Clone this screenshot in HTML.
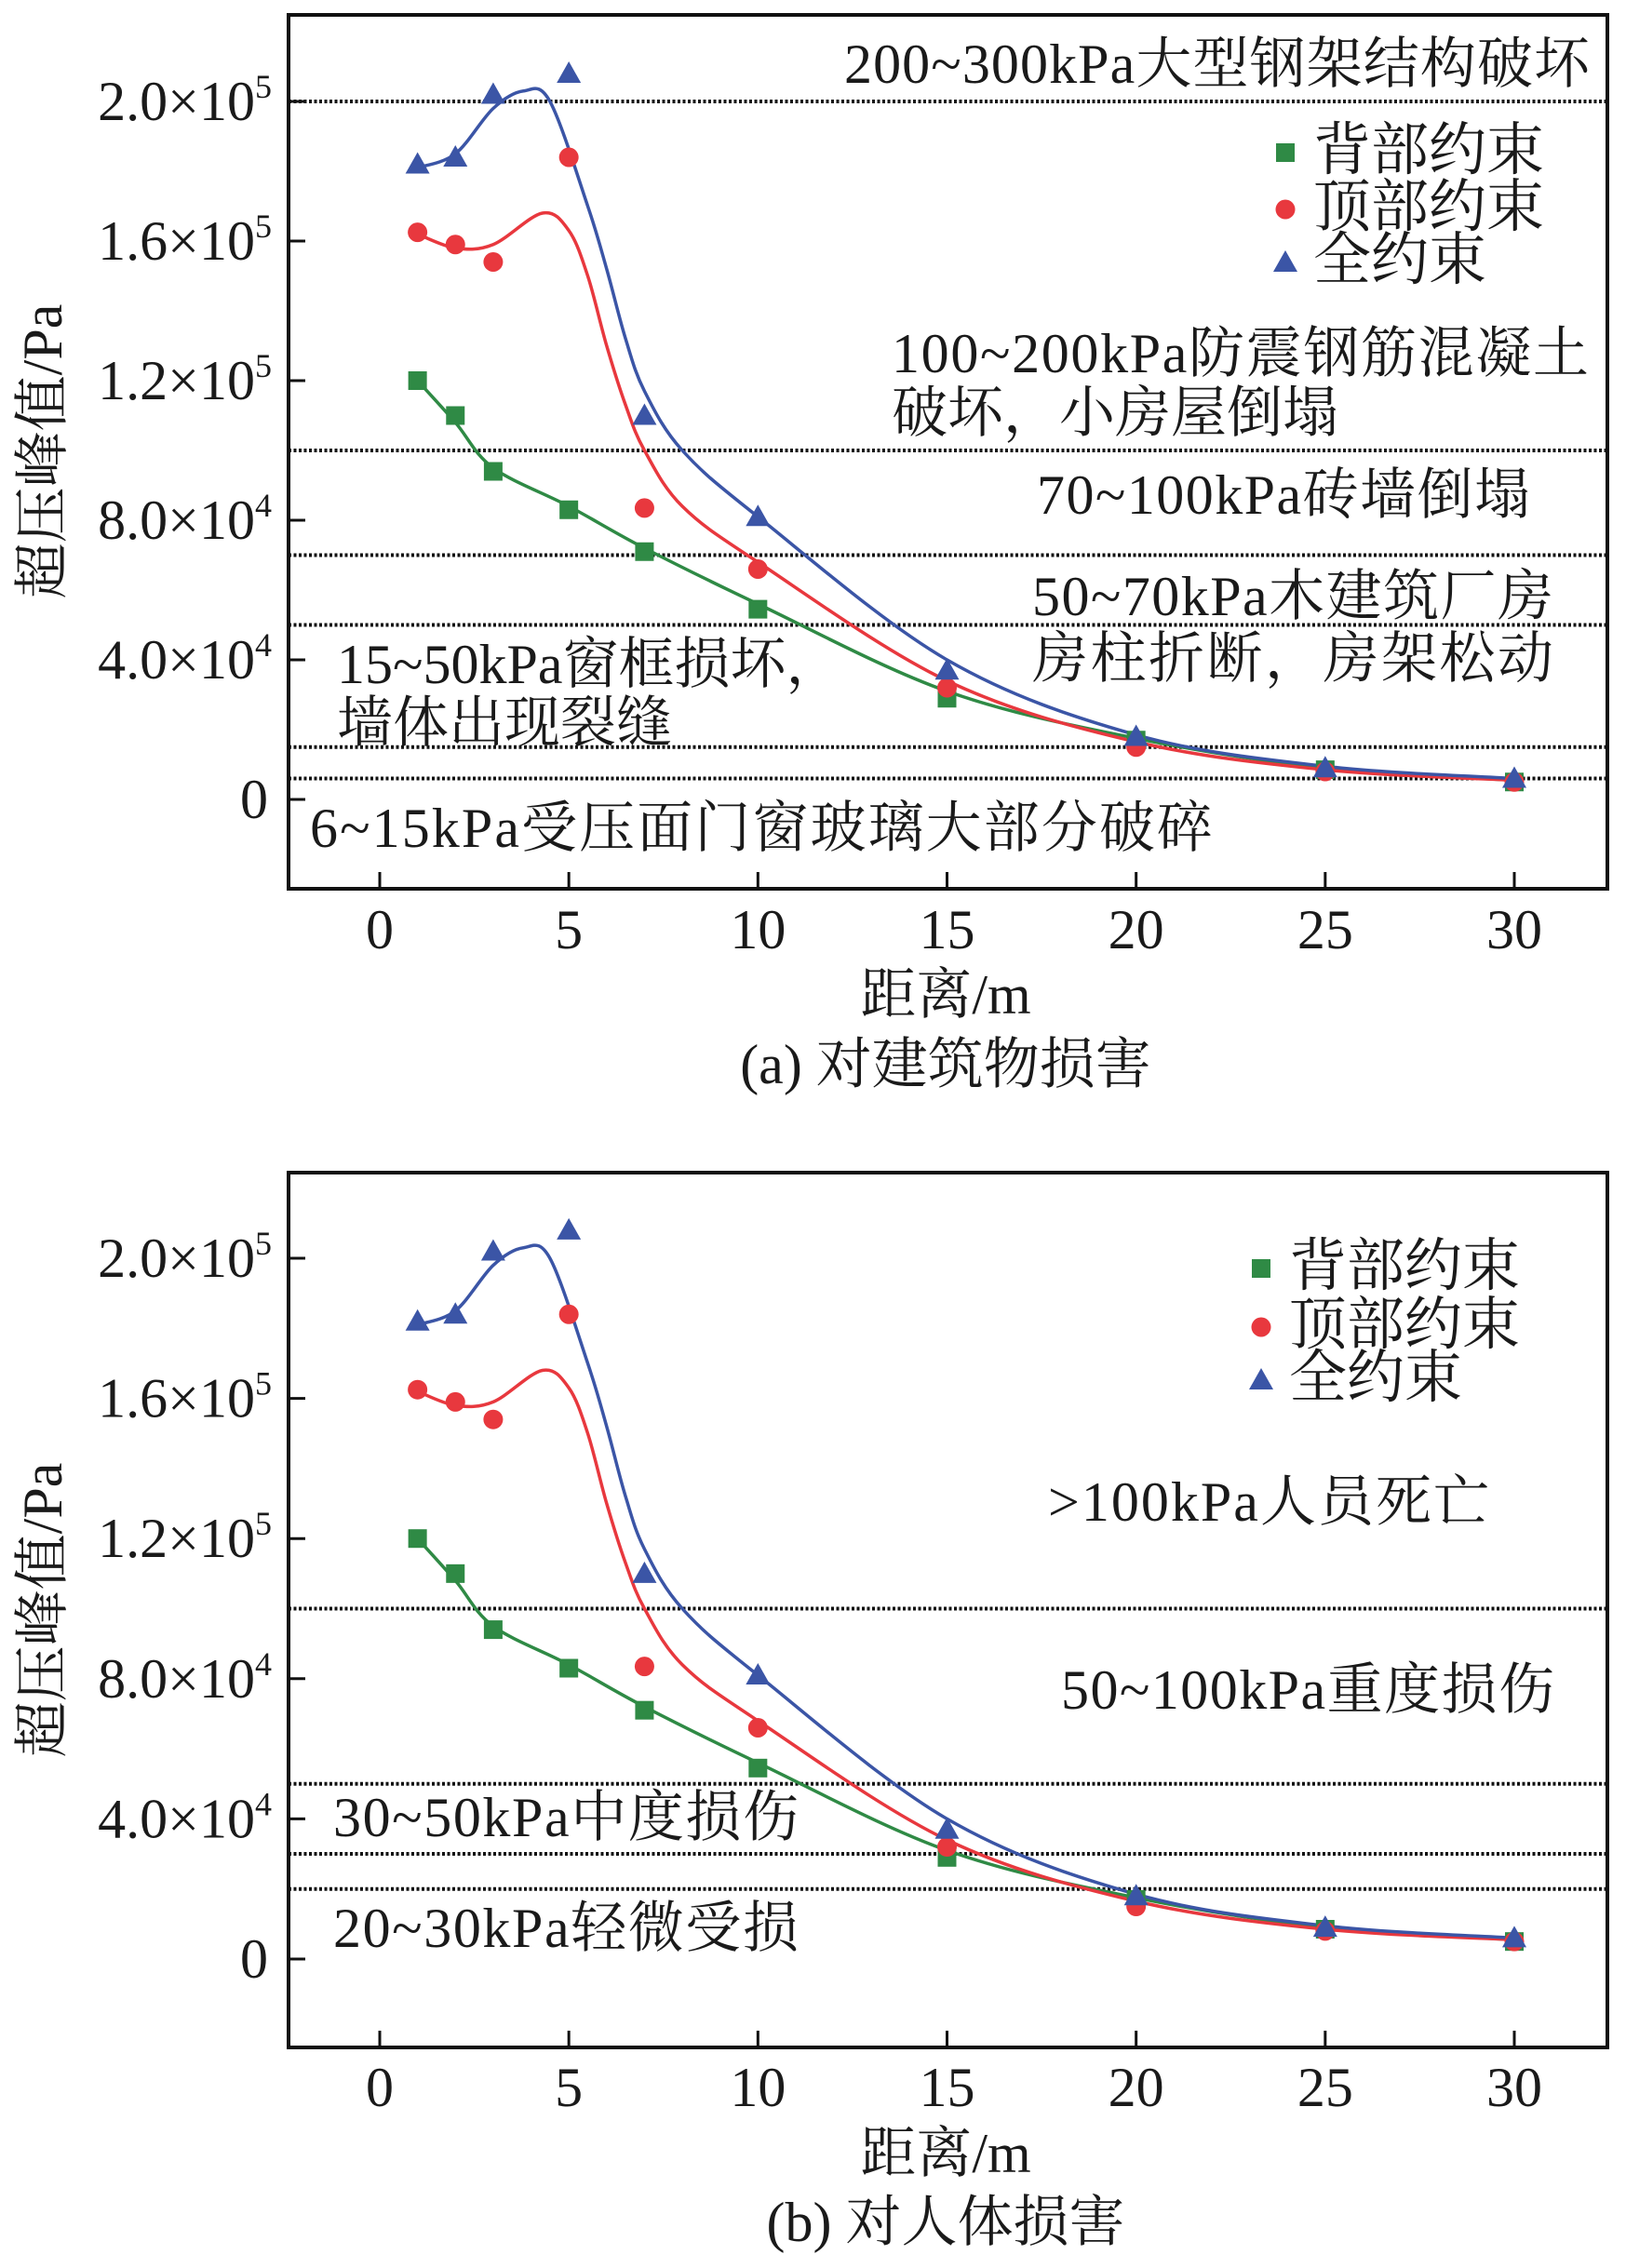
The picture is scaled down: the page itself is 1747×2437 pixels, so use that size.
<!DOCTYPE html>
<html><head><meta charset="utf-8">
<style>
html,body{margin:0;padding:0;background:#fff;}
svg{display:block;}
text{font-family:"Liberation Serif","Noto Serif CJK SC",serif;fill:#1a1a1a;}
</style></head>
<body>
<svg id="chart" width="1747" height="2437" viewBox="0 0 1747 2437" xmlns="http://www.w3.org/2000/svg"></svg>
<script>
// ---- data ----
const xValues = [1, 2, 3, 5, 7, 10, 15, 20, 25, 30];
const backValues = [120000, 110000, 94000, 83000, 71000, 54500, 29000, 17000, 8500, 5000];
const topValues = [162500, 159000, 154000, 184000, 83500, 66000, 32000, 15000, 8000, 5000];
const fullValues = [182000, 184000, 202000, 208000, 110000, 81000, 37000, 18000, 9000, 6000];
// fitted curve readings
const fitBackX = [1, 2, 3, 5, 7, 10, 15, 20, 25, 30];
const fitBackY = [120000, 108000, 95000, 84000, 72000, 56000, 31000, 17500, 9000, 5500];
const fitTopX = [1, 2, 3, 4.3, 5, 5.5, 6, 6.5, 7, 8, 10, 15, 20, 25, 30];
const fitTopY = [162000, 158000, 159000, 168000, 163000, 150000, 130000, 113000, 100000, 84000, 68000, 34000, 16500, 8500, 5500];
const fitFullX = [1, 2, 3, 3.8, 4.5, 5.5, 6, 6.5, 7, 8, 10, 15, 20, 25, 30];
const fitFullY = [181000, 185000, 198000, 203000, 200000, 170000, 152000, 132000, 117000, 100000, 81000, 40000, 18500, 9500, 6000];
const xTicks = [0, 5, 10, 15, 20, 25, 30];
const yTicks = [0, 40000, 80000, 120000, 160000, 200000];
const yTickMant = ["0", "4.0", "8.0", "1.2", "1.6", "2.0"];
const yTickExp = ["", "4", "4", "5", "5", "5"];
const legendLabels = ["背部约束", "顶部约束", "全约束"];
const thresholdsA = [200000, 100000, 70000, 50000, 15000, 6000];
const thresholdsB = [100000, 50000, 30000, 20000];

const NS = "http://www.w3.org/2000/svg";
const svg = document.getElementById("chart");
const COLORS = ["#2f8a45", "#e8383e", "#3b55a6"];

function mk(tag, attrs, parent, txt) {
  const e = document.createElementNS(NS, tag);
  for (const k in attrs) e.setAttribute(k, attrs[k]);
  if (txt !== undefined) e.textContent = txt;
  (parent || svg).appendChild(e);
  return e;
}

function drawPanel(cfg) {
  const g = mk("g", {});
  
  
  const L = 310, R = 1727, T = cfg.top, B = cfg.bottom;
  const xs = v => 408 + v * (1627 - 408) / 30;
  const ys = v => cfg.y0 - v * (cfg.y0 - cfg.y200) / 200000;

  cfg.thresholds.forEach(t => {
    const l = mk("line", {x1: L, x2: R, y1: ys(t), y2: ys(t), stroke: "#111", "stroke-width": 4, "stroke-dasharray": "3 2.5"}, g);
    
    
  });

  const fr = mk("rect", {x: L, y: T, width: R - L, height: B - T, fill: "none", stroke: "#111", "stroke-width": 4}, g);
  
  

  xTicks.forEach(v => {
    mk("line", {x1: xs(v), x2: xs(v), y1: B, y2: B - 18, stroke: "#111", "stroke-width": 3}, g);
    const t = mk("text", {x: xs(v), y: cfg.xLabelY, "font-size": 60, "text-anchor": "middle"}, g, String(v));
    
    
  });
  yTicks.forEach((v, i) => {
    mk("line", {x1: L, x2: L + 18, y1: ys(v), y2: ys(v), stroke: "#111", "stroke-width": 3}, g);
    const t = mk("text", {x: 292, y: ys(v) + 20, "font-size": 60, "text-anchor": "end"}, g);
    
    
    if (yTickExp[i]) {
      mk("tspan", {}, t, yTickMant[i] + "×10");
      mk("tspan", {"font-size": 36, dy: -24}, t, yTickExp[i]);
    } else {
      t.textContent = yTickMant[i];
      t.setAttribute("x", 288);
    }
  });

  const curves = [[fitBackX, fitBackY], [fitTopX, fitTopY], [fitFullX, fitFullY]];
  curves.forEach((c, ci) => {
    const p = c[0].map((x, i) => [xs(x), ys(c[1][i])]);
    let d = "M" + p[0][0] + "," + p[0][1];
    for (let i = 0; i < p.length - 1; i++) {
      const p0 = p[i - 1] || p[i], p1 = p[i], p2 = p[i + 1], p3 = p[i + 2] || p2;
      const c1 = [p1[0] + (p2[0] - p0[0]) / 6, p1[1] + (p2[1] - p0[1]) / 6];
      const c2 = [p2[0] - (p3[0] - p1[0]) / 6, p2[1] - (p3[1] - p1[1]) / 6];
      d += " C" + c1 + " " + c2 + " " + p2;
    }
    const path = mk("path", {d: d, fill: "none", stroke: COLORS[ci], "stroke-width": 3.5}, g);
    
    
  });

  function marker(type, cx, cy, color, parent) {
    let m;
    if (type === 0) m = mk("rect", {x: cx - 10, y: cy - 10, width: 20, height: 20, fill: color}, parent);
    else if (type === 1) m = mk("circle", {cx: cx, cy: cy, r: 10.5, fill: color}, parent);
    else m = mk("polygon", {points: (cx) + "," + (cy - 13) + " " + (cx - 13) + "," + (cy + 10) + " " + (cx + 13) + "," + (cy + 10), fill: color}, parent);
    return m;
  }
  [backValues, topValues, fullValues].forEach((vals, si) => {
    vals.forEach((v, i) => {
      const m = marker(si, xs(xValues[i]), ys(v), COLORS[si], g);
      
      
    });
  });

  legendLabels.forEach((lab, i) => {
    const y = cfg.legendY[i];
    const m = marker(i, cfg.legendMX, y - 18, COLORS[i], g);
    
    
    const t = mk("text", {x: cfg.legendTX, y: y, "font-size": 62}, g, lab);
    
    
  });

  cfg.notes.forEach(n => {
    const t = mk("text", {x: n[0], y: n[1], "font-size": 60}, g, n[2]);
    if (n[3]) t.setAttribute("textLength", n[3]);
    
    
  });

  const yt = mk("text", {x: 0, y: 0, "font-size": 60, "text-anchor": "middle", transform: "translate(66," + cfg.yTitleY + ") rotate(-90)"}, g, "超压峰值/Pa");
  
  
  const xt = mk("text", {x: 1016, y: cfg.xTitleY, "font-size": 60, "text-anchor": "middle"}, g, "距离/m");
  
  
  const cap = mk("text", {x: 1016, y: cfg.capY, "font-size": 60, "text-anchor": "middle"}, g, cfg.caption);
  
  
}

drawPanel({
  name: "panel-a-buildings", top: 16, bottom: 955, y0: 859, y200: 109,
  thresholds: thresholdsA, xLabelY: 1019, xTitleY: 1089, capY: 1164, yTitleY: 485,
  legendY: [182, 243, 300], legendMX: 1381, legendTX: 1411,
  caption: "(a) 对建筑物损害",
  notes: [
    [907, 89, "200~300kPa大型钢架结构破坏", 801],
    [958, 400, "100~200kPa防震钢筋混凝土", 749],
    [958, 464, "破坏，小房屋倒塌"],
    [1114, 552, "70~100kPa砖墙倒塌", 530],
    [1109, 661, "50~70kPa木建筑厂房", 560],
    [1109, 728, "房柱折断，房架松动", 560],
    [362, 734, "15~50kPa窗框损坏，"],
    [362, 797, "墙体出现裂缝"],
    [333, 910, "6~15kPa受压面门窗玻璃大部分破碎", 970]
  ]
});
drawPanel({
  name: "panel-b-human", top: 1260, bottom: 2200, y0: 2105, y200: 1352,
  thresholds: thresholdsB, xLabelY: 2263, xTitleY: 2334, capY: 2408, yTitleY: 1730,
  legendY: [1381, 1444, 1501], legendMX: 1355, legendTX: 1385,
  caption: "(b) 对人体损害",
  notes: [
    [1126, 1634, ">100kPa人员死亡", 474],
    [1140, 1836, "50~100kPa重度损伤", 530],
    [358, 1973, "30~50kPa中度损伤", 500],
    [358, 2092, "20~30kPa轻微受损", 500]
  ]
});
</script>
</body></html>
